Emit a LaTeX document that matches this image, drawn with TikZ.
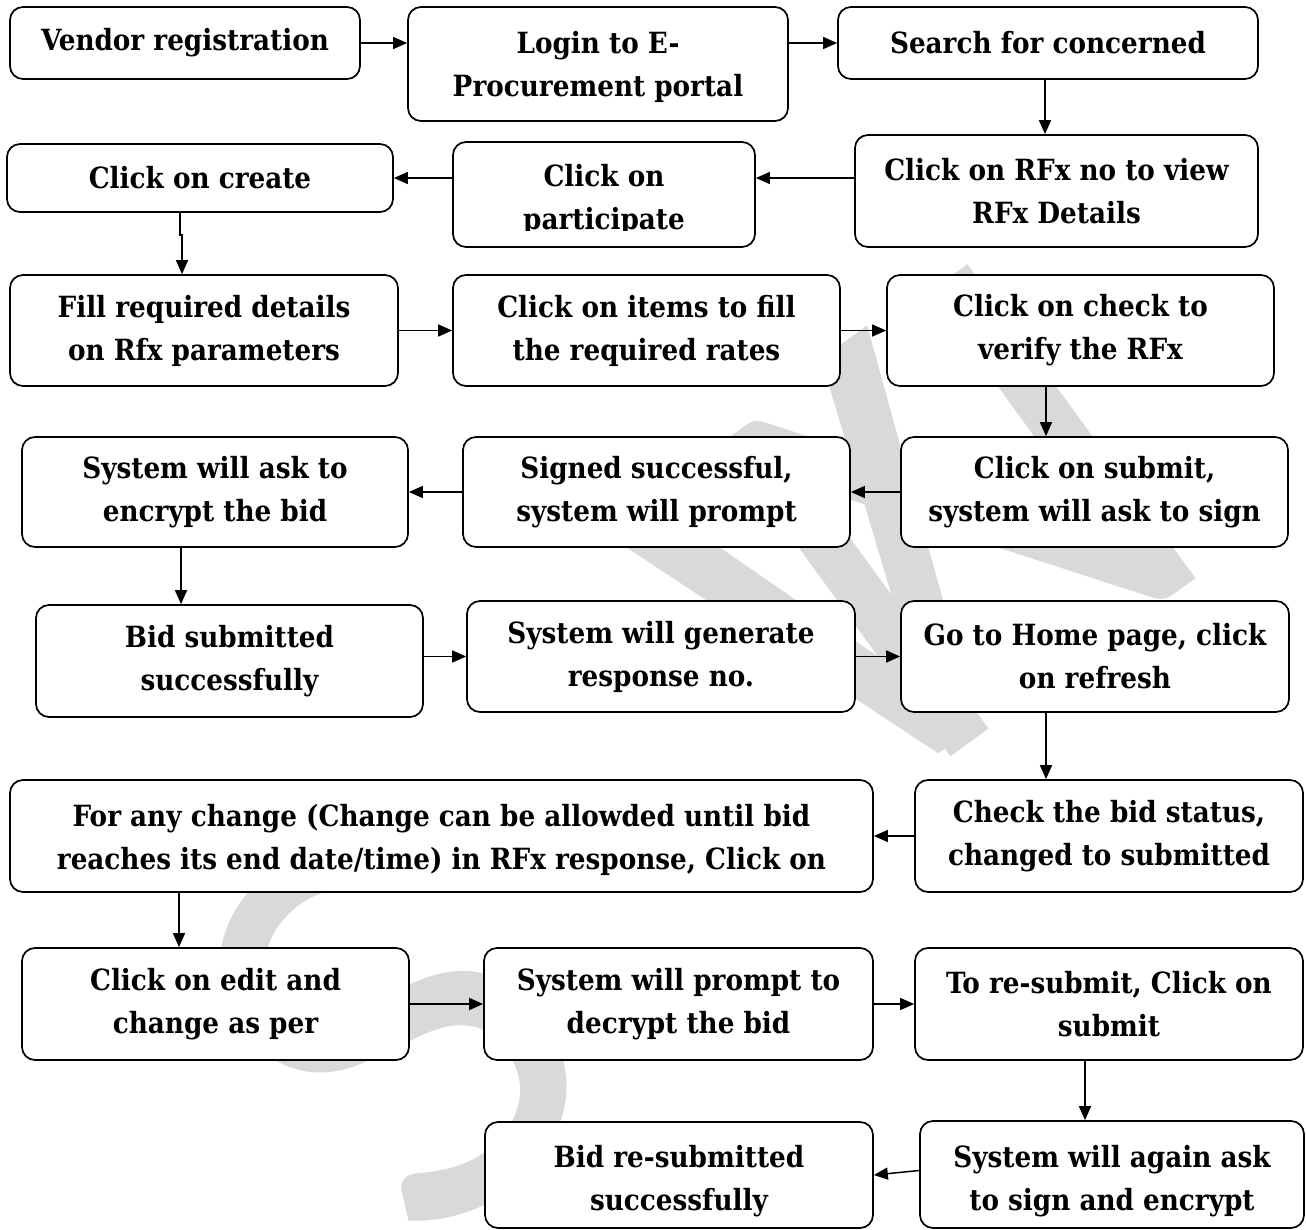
\documentclass[tikz,border=0pt]{standalone}
\usepackage{fontspec}
\setmainfont{DejaVu Serif Condensed}
\newfontfamily\wmfont{Carlito}
\usetikzlibrary{arrows.meta}
\begin{document}
\begin{tikzpicture}[x=1pt,y=-1pt,
  box/.style={draw=black, line width=1.7pt, rounded corners=13pt, fill=white,
    inner sep=0pt, align=center, font=\bfseries\fontsize{29.2}{43}\selectfont},
  txt/.style={inner sep=0pt, align=center, font=\bfseries\fontsize{29.2}{43}\selectfont},
  arr/.style={line width=1.5pt, -{Triangle[length=14pt,width=12pt]}},
  wm/.style={inner sep=0pt, anchor=base west, text=black!15, font=\wmfont\fontsize{605}{620}\selectfont}]
\useasboundingbox (0,0) rectangle (1306,1230);
\fill[white] (0,0) rectangle (1306,1230);
% watermark
\node[wm, rotate=45] (wmS) at (430,1266) {S};
\node[wm, rotate=36] (wmV) at (819,841) {V};
\node[wm, rotate=36] (wmN) at (915,783) {N};
% row 1
\node[box, minimum width=350pt, minimum height=72pt] (vendor) at (185,43) {Vendor registration};
\node[box, minimum width=380pt, minimum height=114pt] (login) at (598,64) {};
\node[txt] (logintext) at (598,67) {Login to E-\\Procurement portal};
\node[box, minimum width=420pt, minimum height=72pt] (search) at (1048,43) {Search for concerned};
% row 2
\node[box, minimum width=403pt, minimum height=112pt] (rfx) at (1056.5,191) {Click on RFx no to view\\RFx Details};
\node[box, minimum width=302pt, minimum height=105pt] (part) at (604,194.5) {};
\begin{scope}
\clip (453,142) rectangle (755,231);
\node[txt] (parttext) at (604,200) {Click on\\participate};
\end{scope}
\node[box, minimum width=386pt, minimum height=68pt] (create) at (200,178) {Click on create};
% row 3
\node[box, minimum width=388pt, minimum height=111pt] (fill) at (204,330.5) {Fill required details\\on Rfx parameters};
\node[box, minimum width=387pt, minimum height=111pt] (items) at (646.5,330.5) {Click on items to fill\\the required rates};
\node[box, minimum width=387pt, minimum height=111pt] (check) at (1080.5,330.5) {Click on check to\\verify the RFx};
% row 4
\node[box, minimum width=387pt, minimum height=110pt] (submit) at (1094.5,492) {Click on submit,\\system will ask to sign};
\node[box, minimum width=387pt, minimum height=110pt] (signed) at (656.5,492) {Signed successful,\\system will prompt};
\node[box, minimum width=386pt, minimum height=110pt] (encask) at (215,492) {System will ask to\\encrypt the bid};
% row 5
\node[box, minimum width=387pt, minimum height=112pt] (bidsub) at (229.5,661) {Bid submitted\\successfully};
\node[box, minimum width=388pt, minimum height=111pt] (gen) at (661,656.5) {System will generate\\response no.};
\node[box, minimum width=388pt, minimum height=111pt] (home) at (1095,656.5) {Go to Home page, click\\on refresh};
% row 6
\node[box, minimum width=388pt, minimum height=112pt] (status) at (1109,836) {Check the bid status,\\changed to submitted};
\node[box, minimum width=863pt, minimum height=112pt] (change) at (441.5,836) {};
\node[txt] (changetext) at (441.5,840) {For any change (Change can be allowded until bid\\reaches its end date/time) in RFx response, Click on};
% row 7
\node[box, minimum width=387pt, minimum height=112pt] (edit) at (215.5,1004) {Click on edit and\\change as per};
\node[box, minimum width=389pt, minimum height=112pt] (decrypt) at (678.5,1004) {System will prompt to\\decrypt the bid};
\node[box, minimum width=388pt, minimum height=112pt] (resub) at (1109,1004) {To re-submit, Click on\\submit};
% row 8
\node[box, minimum width=384pt, minimum height=107pt] (again) at (1112,1174.5) {};
\node[txt] (againtext) at (1112,1181) {System will again ask\\to sign and encrypt};
\node[box, minimum width=388pt, minimum height=106pt] (bidre) at (679,1175) {};
\node[txt] (bidretext) at (679,1181) {Bid re-submitted\\successfully};
% connectors
\draw[arr] (vendor.east) -- (vendor.east -| login.west);
\draw[arr] (search.west -| login.east) -- (search.west);
\draw[arr] ([xshift=-3pt]search.south) -- ([xshift=-3pt]search.south |- rfx.north);
\draw[arr] (rfx.west |- create.east) -- (part.east |- create.east);
\draw[arr] (part.west |- create.east) -- (create.east);
\draw[arr] ([xshift=-20pt]create.south) -- ++(0,22) -| ([xshift=-22pt]fill.north);
\draw[arr] (fill.east) -- (items.west);
\draw[arr] (items.east) -- (check.west);
\draw[arr] ([xshift=-34.5pt]check.south) -- ([xshift=-34.5pt]check.south |- submit.north);
\draw[arr] (submit.west) -- (signed.east);
\draw[arr] (signed.west) -- (encask.east);
\draw[arr] ([xshift=-34pt]encask.south) -- ([xshift=-34pt]encask.south |- bidsub.north);
\draw[arr] (gen.west -| bidsub.east) -- (gen.west);
\draw[arr] (gen.east) -- (home.west);
\draw[arr] ([xshift=-49pt]home.south) -- ([xshift=-49pt]home.south |- status.north);
\draw[arr] (status.west) -- (change.east);
\draw[arr] ([xshift=-36.5pt]edit.north |- change.south) -- ([xshift=-36.5pt]edit.north);
\draw[arr] (edit.east) -- (decrypt.west);
\draw[arr] (decrypt.east) -- (resub.west);
\draw[arr] ([xshift=-24pt]resub.south) -- ([xshift=-24pt]resub.south |- again.north);
\draw[arr] ([yshift=4pt]again.west) -- (bidre.east);
\end{tikzpicture}
\end{document}
